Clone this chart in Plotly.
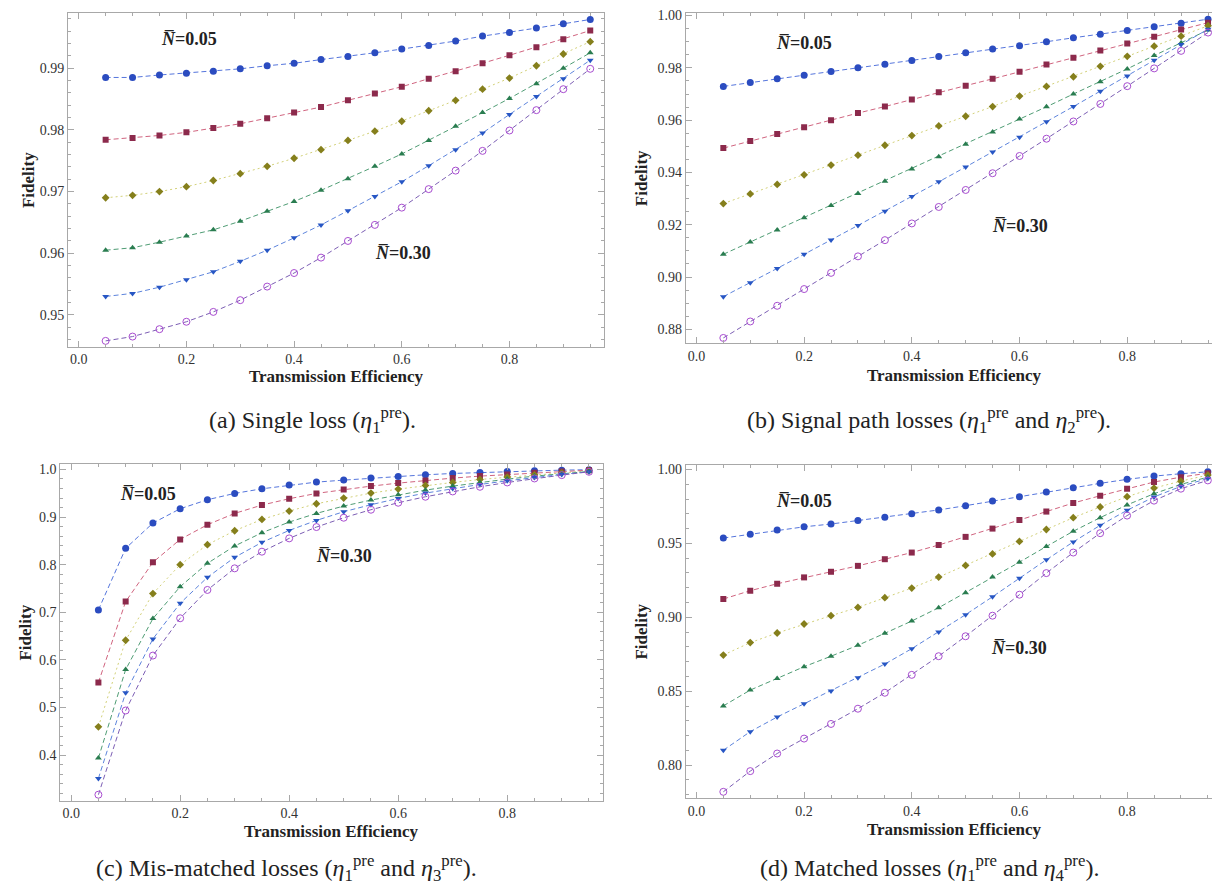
import plotly.graph_objects as go

W, H = 1220, 886

# ---------------- data ----------------
eta = [0.05, 0.10, 0.15, 0.20, 0.25, 0.30, 0.35, 0.40, 0.45, 0.50,
       0.55, 0.60, 0.65, 0.70, 0.75, 0.80, 0.85, 0.90, 0.95]

# (a) single loss
a_n1 = [0.9885, 0.9885, 0.9889, 0.9892, 0.9895, 0.9899, 0.9904, 0.9908, 0.9914, 0.9919,
        0.9925, 0.9931, 0.9937, 0.9944, 0.9952, 0.9958, 0.9965, 0.9972, 0.9979]
a_n2 = [0.9784, 0.9787, 0.9791, 0.9796, 0.9803, 0.9810, 0.9819, 0.9828, 0.9837, 0.9848,
        0.9859, 0.9870, 0.9883, 0.9895, 0.9908, 0.9921, 0.9934, 0.9947, 0.9961]
a_n3 = [0.9690, 0.9694, 0.9700, 0.9708, 0.9718, 0.9729, 0.9741, 0.9754, 0.9768, 0.9783,
        0.9798, 0.9814, 0.9831, 0.9848, 0.9866, 0.9884, 0.9904, 0.9923, 0.9943]
a_n4 = [0.9605, 0.9609, 0.9618, 0.9628, 0.9638, 0.9652, 0.9668, 0.9684, 0.9702, 0.9721,
        0.9741, 0.9761, 0.9783, 0.9806, 0.9828, 0.9851, 0.9875, 0.9900, 0.9925]
a_n5 = [0.9530, 0.9535, 0.9545, 0.9557, 0.9570, 0.9587, 0.9605, 0.9625, 0.9646, 0.9669,
        0.9692, 0.9716, 0.9742, 0.9768, 0.9795, 0.9825, 0.9854, 0.9883, 0.9913]
a_n6 = [0.9458, 0.9465, 0.9477, 0.9489, 0.9505, 0.9524, 0.9546, 0.9568, 0.9593, 0.9620,
        0.9646, 0.9674, 0.9704, 0.9734, 0.9766, 0.9799, 0.9832, 0.9866, 0.9899]

# (b) signal path losses
b_n1 = [0.9729, 0.9744, 0.9758, 0.9772, 0.9786, 0.9800, 0.9814, 0.9828, 0.9843, 0.9858,
        0.9872, 0.9885, 0.9900, 0.9915, 0.9929, 0.9943, 0.9957, 0.9971, 0.9986]
b_n2 = [0.9493, 0.9520, 0.9547, 0.9573, 0.9600, 0.9627, 0.9652, 0.9679, 0.9707, 0.9732,
        0.9758, 0.9785, 0.9813, 0.9839, 0.9866, 0.9893, 0.9919, 0.9947, 0.9973]
b_n3 = [0.9281, 0.9318, 0.9354, 0.9391, 0.9428, 0.9466, 0.9504, 0.9541, 0.9578, 0.9615,
        0.9652, 0.9692, 0.9729, 0.9766, 0.9806, 0.9844, 0.9883, 0.9921, 0.9961]
b_n4 = [0.9087, 0.9134, 0.9180, 0.9227, 0.9274, 0.9319, 0.9366, 0.9413, 0.9460, 0.9508,
        0.9555, 0.9604, 0.9651, 0.9700, 0.9747, 0.9796, 0.9847, 0.9895, 0.9945]
b_n5 = [0.8925, 0.8978, 0.9033, 0.9087, 0.9142, 0.9197, 0.9252, 0.9308, 0.9364, 0.9421,
        0.9478, 0.9535, 0.9594, 0.9652, 0.9711, 0.9769, 0.9829, 0.9889, 0.9948]
b_n6 = [0.8767, 0.8830, 0.8890, 0.8954, 0.9016, 0.9079, 0.9141, 0.9205, 0.9268, 0.9333,
        0.9397, 0.9463, 0.9529, 0.9595, 0.9662, 0.9730, 0.9798, 0.9865, 0.9935]

# (c) mis-matched losses
c_n1 = [0.7049, 0.8343, 0.8874, 0.9175, 0.9364, 0.9497, 0.9594, 0.9671, 0.9734, 0.9776,
        0.9818, 0.9853, 0.9888, 0.9916, 0.9937, 0.9958, 0.9972, 0.9986, 0.9995]
c_n2 = [0.5524, 0.7224, 0.8049, 0.8531, 0.8839, 0.9077, 0.9252, 0.9385, 0.9497, 0.9580,
        0.9650, 0.9713, 0.9769, 0.9818, 0.9860, 0.9895, 0.9930, 0.9958, 0.9986]
c_n3 = [0.4594, 0.6413, 0.7392, 0.8000, 0.8420, 0.8713, 0.8951, 0.9126, 0.9280, 0.9399,
        0.9503, 0.9587, 0.9664, 0.9727, 0.9790, 0.9839, 0.9888, 0.9930, 0.9972]
c_n4 = [0.3937, 0.5797, 0.6867, 0.7538, 0.8028, 0.8392, 0.8671, 0.8895, 0.9077, 0.9231,
        0.9357, 0.9469, 0.9566, 0.9650, 0.9727, 0.9797, 0.9860, 0.9916, 0.9958]
c_n5 = [0.3510, 0.5308, 0.6441, 0.7189, 0.7734, 0.8154, 0.8469, 0.8720, 0.8930, 0.9112,
        0.9259, 0.9392, 0.9503, 0.9601, 0.9685, 0.9762, 0.9832, 0.9895, 0.9951]
c_n6 = [0.3168, 0.4937, 0.6091, 0.6874, 0.7469, 0.7923, 0.8273, 0.8552, 0.8790, 0.8986,
        0.9154, 0.9301, 0.9427, 0.9538, 0.9636, 0.9727, 0.9811, 0.9881, 0.9951]

# (d) matched losses
d_n1 = [0.9536, 0.9562, 0.9590, 0.9612, 0.9631, 0.9654, 0.9676, 0.9701, 0.9726, 0.9755,
        0.9786, 0.9816, 0.9847, 0.9876, 0.9906, 0.9933, 0.9955, 0.9971, 0.9984]
d_n2 = [0.9124, 0.9180, 0.9227, 0.9270, 0.9308, 0.9348, 0.9393, 0.9438, 0.9489, 0.9544,
        0.9600, 0.9658, 0.9715, 0.9773, 0.9822, 0.9870, 0.9915, 0.9948, 0.9975]
d_n3 = [0.8745, 0.8829, 0.8894, 0.8955, 0.9011, 0.9067, 0.9133, 0.9198, 0.9272, 0.9351,
        0.9429, 0.9513, 0.9594, 0.9674, 0.9746, 0.9816, 0.9874, 0.9921, 0.9962]
d_n4 = [0.8401, 0.8508, 0.8587, 0.8666, 0.8737, 0.8811, 0.8892, 0.8975, 0.9065, 0.9166,
        0.9272, 0.9373, 0.9479, 0.9582, 0.9674, 0.9760, 0.9836, 0.9899, 0.9948]
d_n5 = [0.8101, 0.8227, 0.8326, 0.8416, 0.8501, 0.8592, 0.8684, 0.8788, 0.8901, 0.9018,
        0.9139, 0.9265, 0.9389, 0.9510, 0.9622, 0.9724, 0.9814, 0.9886, 0.9939]
d_n6 = [0.7820, 0.7960, 0.8079, 0.8180, 0.8279, 0.8382, 0.8490, 0.8611, 0.8737, 0.8872,
        0.9011, 0.9153, 0.9299, 0.9438, 0.9569, 0.9688, 0.9789, 0.9870, 0.9926]

series_labels = ["N=0.05", "N=0.10", "N=0.15", "N=0.20", "N=0.25", "N=0.30"]

captions = [
    "(a) Single loss (<i>η</i><sub>1</sub><sup>pre</sup>).",
    "(b) Signal path losses (<i>η</i><sub>1</sub><sup>pre</sup> and <i>η</i><sub>2</sub><sup>pre</sup>).",
    "(c) Mis-matched losses (<i>η</i><sub>1</sub><sup>pre</sup> and <i>η</i><sub>3</sub><sup>pre</sup>).",
    "(d) Matched losses (<i>η</i><sub>1</sub><sup>pre</sup> and <i>η</i><sub>4</sub><sup>pre</sup>).",
]
label_low = "<b><i>N\u0305</i>=0.05</b>"
label_high = "<b><i>N\u0305</i>=0.30</b>"

# ---------------- styles / layout ----------------
styles = [
    dict(symbol="circle", size=7, mc="#2b4cc0", lc="#5575dc", dash="5px,3px"),
    dict(symbol="square", size=6, mc="#8c2a4c", lc="#d0647f", dash="5px,3px"),
    dict(symbol="diamond", size=6, mc="#857f1c", lc="#d2d078", dash="2px,3px"),
    dict(symbol="triangle-up", size=6, mc="#2a7d50", lc="#4f9c74", dash="5px,3px"),
    dict(symbol="triangle-down", size=6, mc="#2756c4", lc="#5d84dc", dash="5px,3px"),
    dict(symbol="circle-open", size=7, mc="#a84cd0", lc="#7c5eb4", dash="5px,3px"),
]

panels = [
    dict(data=[a_n1, a_n2, a_n3, a_n4, a_n5, a_n6], px=(60, 595.7), py=(2, 336.7),
         yr=(0.94488, 0.99895), ydt=0.01, ymin=0.002, yfmt=".2f",
         lo=(0.205, 0.9947), hi=(0.602, 0.9600),
         cap=(304, 410), xt=(328, 367), yt=(20.6, 170)),
    dict(data=[b_n1, b_n2, b_n3, b_n4, b_n5, b_n6], px=(677.7, 1213.5), py=(1.7, 333.3),
         yr=(0.8747, 1.0011), ydt=0.02, ymin=0.005, yfmt=".2f",
         lo=(0.200, 0.9896), hi=(0.600, 0.9197),
         cap=(921, 410), xt=(946, 366), yt=(633.7, 168)),
    dict(data=[c_n1, c_n2, c_n3, c_n4, c_n5, c_n6], px=(52.3, 594.6), py=(455, 792.3),
         yr=(0.3044, 1.0105), ydt=0.1, ymin=0.02, yfmt=".1f",
         lo=(0.1415, 0.9476), hi=(0.500, 0.8182),
         cap=(278, 860), xt=(323, 823), yt=(17.7, 624)),
    dict(data=[d_n1, d_n2, d_n3, d_n4, d_n5, d_n6], px=(677.7, 1213.3), py=(456, 790),
         yr=(0.7776, 1.0027), ydt=0.05, ymin=0.01, yfmt=".2f",
         lo=(0.200, 0.9786), hi=(0.600, 0.8792),
         cap=(921, 860), xt=(946, 821), yt=(633.7, 623)),
]

XR = (-0.0199, 0.975)
SERIF = "Liberation Serif"
FRAME = "#a8a8a8"

fig = go.Figure()
annotations = []
layout = dict(
    width=W, height=H, margin=dict(l=0, r=0, t=0, b=0),
    paper_bgcolor="white", plot_bgcolor="white", showlegend=False,
    font=dict(family=SERIF, color="#222"),
)


def paper_text(px_, py_, text, size, angle=0):
    return dict(x=px_ / W, y=1 - py_ / H, xref="paper", yref="paper", text=text,
                showarrow=False, xanchor="center", yanchor="middle", textangle=angle,
                font=dict(family=SERIF, size=size, color="#222"))


for i, p in enumerate(panels):
    k = "" if i == 0 else str(i + 1)
    xa, ya = "x" + k, "y" + k
    for s, ys, lab in zip(styles, p["data"], series_labels):
        fig.add_trace(go.Scatter(
            x=eta, y=ys, xaxis=xa, yaxis=ya, mode="lines+markers", name=lab,
            line=dict(color=s["lc"], width=1, dash=s["dash"]),
            marker=dict(symbol=s["symbol"], size=s["size"], color=s["mc"],
                        line=dict(width=1 if s["symbol"] == "circle-open" else 0, color=s["mc"])),
        ))
    axis_common = dict(
        showgrid=False, zeroline=False, showline=True, linecolor=FRAME, linewidth=1,
        mirror="allticks", ticks="inside", ticklen=6, tickcolor=FRAME, tickwidth=1,
        tickfont=dict(family=SERIF, size=14, color="#333"),
    )
    layout["xaxis" + k] = dict(
        axis_common, domain=[p["px"][0] / W, p["px"][1] / W], range=list(XR),
        anchor=ya, tick0=0, dtick=0.2, tickformat=".1f",
        minor=dict(ticks="inside", ticklen=3, tickcolor=FRAME, dtick=0.05, tick0=0),
    )
    layout["yaxis" + k] = dict(
        axis_common, domain=[1 - p["py"][1] / H, 1 - p["py"][0] / H], range=list(p["yr"]),
        anchor=xa, tick0=0, dtick=p["ydt"], tickformat=p["yfmt"],
        minor=dict(ticks="inside", ticklen=3, tickcolor=FRAME, dtick=p["ymin"], tick0=0),
    )
    for (tx, ty), txt in ((p["lo"], label_low), (p["hi"], label_high)):
        annotations.append(dict(x=tx, y=ty, xref=xa, yref=ya, text=txt, showarrow=False,
                                xanchor="center", yanchor="middle",
                                font=dict(family=SERIF, size=18, color="#222")))
    annotations.append(paper_text(p["xt"][0], p["xt"][1], "<b>Transmission Efficiency</b>", 17))
    annotations.append(paper_text(p["yt"][0], p["yt"][1], "<b>Fidelity</b>", 17, angle=-90))
    annotations.append(paper_text(p["cap"][0], p["cap"][1], captions[i], 24))

layout["annotations"] = annotations
fig.update_layout(**layout)
fig.write_html("out.html")
